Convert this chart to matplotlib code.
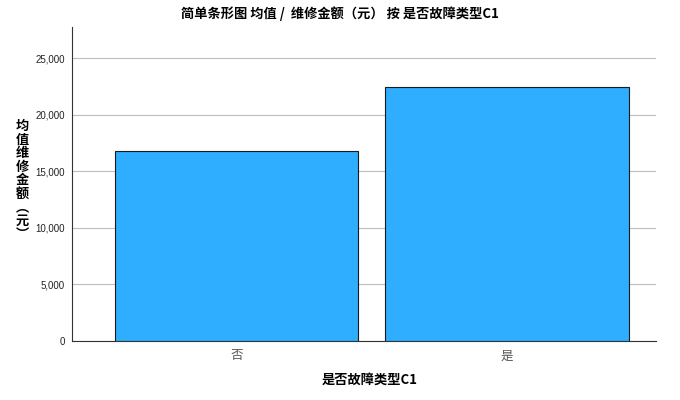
import matplotlib
matplotlib.use("Agg")
import matplotlib.pyplot as plt
from matplotlib.ticker import FuncFormatter

plt.rcParams['font.family'] = ['Noto Sans CJK SC', 'DejaVu Sans']

categories = ['否', '是']
means = [16800, 22450]
yticks = [0, 5000, 10000, 15000, 20000, 25000]

title = '简单条形图 均值 /  维修金额（元） 按 是否故障类型C1'
xlabel = '是否故障类型C1'
ylabel = '均值维修金额︵元︶'

fig = plt.figure(figsize=(6.8, 4.0), dpi=100)
ax = fig.add_axes([72 / 680, 1 - 341 / 400, (656 - 72) / 680, (341 - 27) / 400])

x = list(range(len(categories)))
ax.bar(x, means, width=0.9, color='#2fadff', edgecolor='#1a1a1a', linewidth=0.8, zorder=3)

ax.set_xlim(-0.608, 1.551)
ax.set_ylim(0, 27750)
ax.set_yticks(yticks)
ax.yaxis.set_major_formatter(FuncFormatter(lambda v, p: f'{int(v):,}'))
for lab in ax.get_yticklabels():
    lab.set_family(['Liberation Sans', 'DejaVu Sans'])
ax.set_xticks(x)
ax.set_xticklabels(categories, color='#555555', fontsize=9)
ax.tick_params(axis='y', length=0, labelsize=7, labelcolor='#222222', pad=5)
ax.tick_params(axis='x', length=0, pad=6)
ax.grid(axis='y', color='#bdbdbd', linewidth=0.8, zorder=0)

for s in ['top', 'right']:
    ax.spines[s].set_visible(False)
for s in ['left', 'bottom']:
    ax.spines[s].set_color('#333333')
    ax.spines[s].set_linewidth(0.8)

fig.text(0.5, 1 - 14 / 400, title, ha='center', va='center', fontsize=9.5, fontweight='bold')
fig.text(370 / 680, 1 - 380 / 400, xlabel, ha='center', va='center',
         fontsize=9.5, fontweight='bold')
fig.text(22 / 680, 1 - 180 / 400, '\n'.join(ylabel), ha='center', va='center',
         fontsize=9.5, fontweight='bold', linespacing=0.95)

fig.savefig('out.png', dpi=100)
